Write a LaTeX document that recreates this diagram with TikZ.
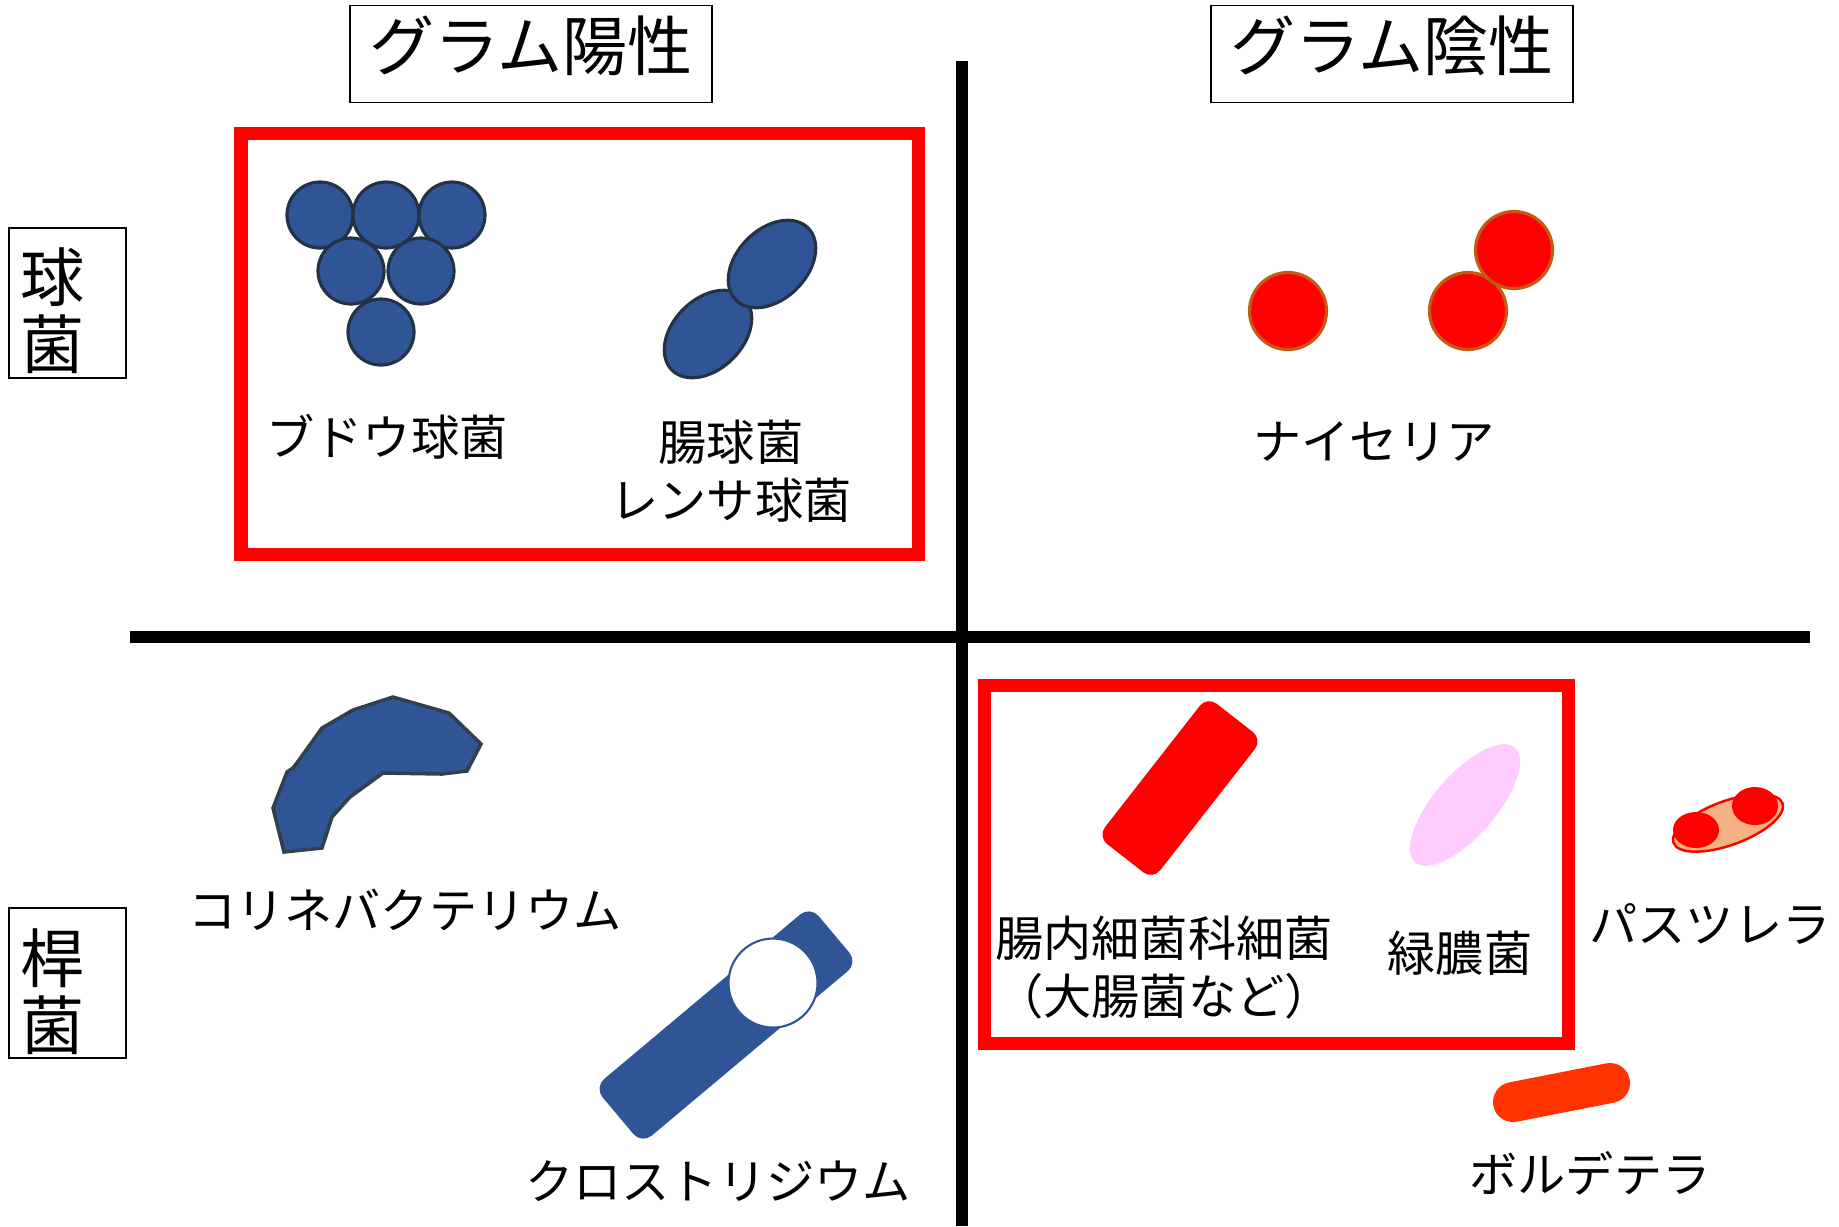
\documentclass[tikz,border=0pt]{standalone}
\usepackage{fontspec}
\setmainfont{Noto Sans CJK JP}
\definecolor{gpblue}{HTML}{2F5597}
\definecolor{gpedge}{HTML}{243246}
\definecolor{coryedge}{HTML}{323F4F}
\definecolor{gnedge}{HTML}{C55A11}
\definecolor{pyopink}{HTML}{FFCCFF}
\definecolor{pastfill}{HTML}{F4B183}
\definecolor{bordred}{HTML}{FF3300}

\begin{document}
\begin{tikzpicture}[x=0.01cm, y=-0.01cm,
  headbox/.style={draw, line width=0.45pt, minimum width=3.62cm, minimum height=0.97cm},
  headtext/.style={font=\fontsize{18.5pt}{22pt}\selectfont},
  sidebox/.style={draw, line width=0.45pt, minimum width=1.17cm, minimum height=1.5cm},
  sidetext/.style={align=center, font=\fontsize{18.2pt}{19pt}\selectfont},
  lbl/.style={align=center, font=\fontsize{13.7pt}{16.5pt}\selectfont},
  axisline/.style={line width=3.4pt},
  redframe/.style={draw=red, line width=3.7pt},
  coccus/.style={fill=gpblue, draw=gpedge, line width=0.9pt},
  ncoccus/.style={fill=red, draw=gnedge, line width=0.9pt}]
\useasboundingbox (0,0) rectangle (1839,1226);

\node[headbox] (gposbox) at (531,54) {};
\node[headtext] (gpos) at (531,46) {グラム陽性};
\node[headbox] (gnegbox) at (1392,54) {};
\node[headtext] (gneg) at (1392,46) {グラム陰性};
\node[sidebox] (cocbox) at (67.5,303) {};
\node[sidetext] (coc) at (53,311) {球\\菌};
\node[sidebox] (rodbox) at (67.5,983) {};
\node[sidetext] (rod) at (53,992) {桿\\菌};

\draw[axisline] (962,61) -- (962,1226);
\draw[axisline] (130,637) -- (1810,637);
\draw[redframe] (241,133) rectangle (918,554);
\draw[redframe] (984,685) rectangle (1568,1043);

% gram positive cocci
\foreach \cx/\cy in {320/215, 386/215, 452/215, 351/271, 421/271, 381/332}
  \draw[coccus] (\cx,\cy) circle[radius=33];
\draw[coccus, shift={(708,334)}, rotate=45] (0,0) ellipse[x radius=51, y radius=35];
\draw[coccus, shift={(772,264)}, rotate=45] (0,0) ellipse[x radius=51, y radius=35];
\node[lbl] (staph) at (387,437) {ブドウ球菌};
\node[lbl] (strep) at (731,471) {腸球菌\\レンサ球菌};

% gram negative cocci
\draw[ncoccus] (1288,311) circle[radius=38.5];
\draw[ncoccus] (1468,311) circle[radius=38.5];
\draw[ncoccus] (1514,250) circle[radius=38.5];
\node[lbl] (neis) at (1374,442) {ナイセリア};

% gram positive rods
\draw[fill=gpblue, draw=coryedge, line width=1pt] (393,697) -- (449,713) -- (481,744)
  -- (467,771) -- (442,774) -- (383,773) -- (350,797) -- (332,817) -- (322,848)
  -- (284,852) -- (273,808) -- (287,772) -- (293,768) -- (299,760) -- (322,728)
  -- (353,710) -- cycle;
\node[lbl] (cory) at (405,910) {コリネバクテリウム};
\fill[gpblue, shift={(726,1025)}, rotate=40, rounded corners=0.13cm] (-141,-37) rectangle (141,37);
\draw[fill=white, draw=gpblue, line width=0.6pt] (773,983) circle[radius=44.5];
\node[lbl] (clos) at (718,1181) {クロストリジウム};

% gram negative rods
\fill[red, shift={(1180,788)}, rotate=52, rounded corners=0.12cm] (-89,-35) rectangle (89,35);
\fill[pyopink, shift={(1465,805)}, rotate=49] (0,0) ellipse[x radius=76, y radius=31];
\node[lbl] (entero) at (1164,968) {腸内細菌科細菌\\（大腸菌など）};
\node[lbl] (pseudo) at (1460,953) {緑膿菌};
\draw[fill=pastfill, draw=red, line width=0.7pt, shift={(1728,823)}, rotate=20] (0,0) ellipse[x radius=58, y radius=22];
\fill[red] (1696,830) ellipse[x radius=23, y radius=18];
\fill[red] (1755,806) ellipse[x radius=23, y radius=19];
\node[lbl] (past) at (1710,924) {パスツレラ};
\draw[bordred, line width=0.4cm, line cap=round] (1513,1102) -- (1610,1083);
\node[lbl] (bord) at (1590,1173) {ボルデテラ};
\end{tikzpicture}
\end{document}
